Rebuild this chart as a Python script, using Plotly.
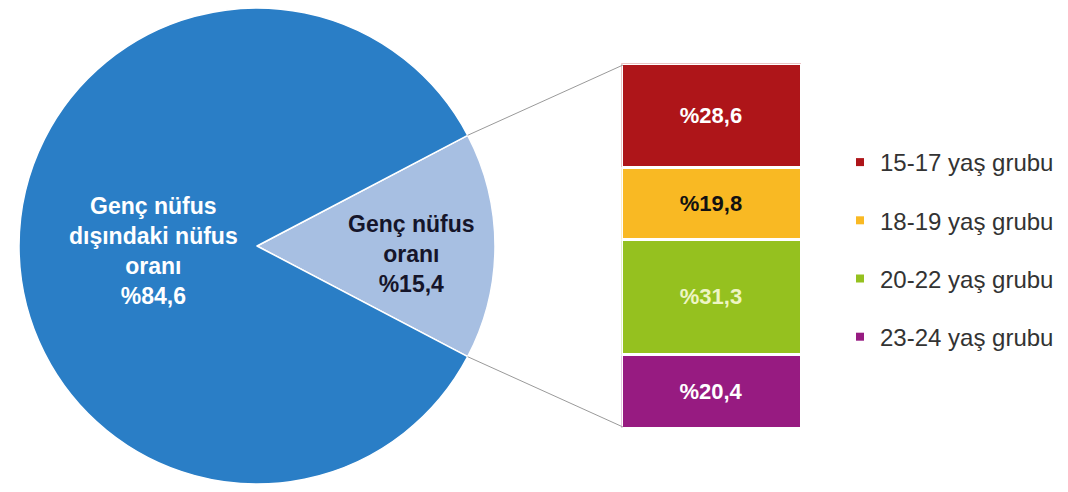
import math
import plotly.graph_objects as go

# the page body adds an 8px margin, so the figure is a bit smaller than the window
OFF = 8
W, H = 1068 - OFF, 492 - OFF

# --- data ---
pie_labels = ["Genç nüfus oranı", "Genç nüfus dışındaki nüfus oranı"]
pie_values = [15.4, 84.6]
pie_colors = ["#a7bfe2", "#2a7ec6"]

age_groups = ["15-17 yaş grubu", "18-19 yaş grubu", "20-22 yaş grubu", "23-24 yaş grubu"]
age_values = [28.6, 19.8, 31.3, 20.4]
age_colors = ["#ae1519", "#f9b923", "#95c11f", "#971b81"]
age_text_colors = ["white", "#111111", "#eef5c4", "white"]


def pct(v):
    return "%" + f"{v:.1f}".replace(".", ",")


# screen pixels -> paper coords
def fx(x):
    return (x - OFF) / W


def fy(y):
    return 1 - (y - OFF) / H


# --- geometry (screen pixels) ---
PIE_C = (257, 246)
PIE_R = 238
BAR_X = (623, 800)
BAR_Y = (65, 427)
BW = 3  # white gap between bar segments

fig = go.Figure()

# small slice centered at 3 o'clock
half_angle = pie_values[0] / sum(pie_values) * 360 / 2
fig.add_trace(go.Pie(
    labels=pie_labels, values=pie_values, sort=False, direction="clockwise",
    rotation=90 - half_angle,
    marker=dict(colors=pie_colors, line=dict(color="white", width=1.5)),
    textinfo="none", hoverinfo="label+value", showlegend=False,
    domain=dict(x=[fx(PIE_C[0] - PIE_R), fx(PIE_C[0] + PIE_R)],
                y=[fy(PIE_C[1] + PIE_R), fy(PIE_C[1] - PIE_R)]),
))

# stacked bar, bottom segment first
for name, v, c, tc in reversed(list(zip(age_groups, age_values, age_colors, age_text_colors))):
    fig.add_trace(go.Bar(
        x=[""], y=[v], name=name, marker=dict(color=c, line=dict(color="white", width=BW)),
        text=["<b>" + pct(v) + "</b>"], textposition="inside", insidetextanchor="middle",
        textfont=dict(color=tc, size=22, family="Liberation Sans, Arial"),
        showlegend=False, hoverinfo="name+y",
    ))

# legend entries (small squares)
for name, c in zip(age_groups, age_colors):
    fig.add_trace(go.Scatter(
        x=[None], y=[None], mode="markers", name=name, legendgroup=name,
        marker=dict(symbol="square", size=8, color=c),
    ))

# connector lines from slice edges to bar corners
th = math.radians(half_angle)
ex = PIE_C[0] + PIE_R * math.cos(th)
for sgn, by in ((-1, BAR_Y[0]), (1, BAR_Y[1])):
    ey = PIE_C[1] + sgn * PIE_R * math.sin(th)
    fig.add_shape(type="line", xref="paper", yref="paper",
                  x0=fx(ex), y0=fy(ey), x1=fx(BAR_X[0]), y1=fy(by),
                  line=dict(color="#9a9a9a", width=1))

# pie labels
fig.add_annotation(
    x=fx(153), y=fy(251), xref="paper", yref="paper", showarrow=False,
    xanchor="center", yanchor="middle",
    text="<b>Genç nüfus<br>dışındaki nüfus<br>oranı<br>" + pct(pie_values[1]) + "</b>",
    font=dict(color="white", size=23, family="Liberation Sans, Arial"),
)
fig.add_annotation(
    x=fx(411), y=fy(254), xref="paper", yref="paper", showarrow=False,
    xanchor="center", yanchor="middle",
    text="<b>Genç nüfus<br>oranı<br>" + pct(pie_values[0]) + "</b>",
    font=dict(color="#15152a", size=23, family="Liberation Sans, Arial"),
)

fig.update_layout(
    width=W, height=H, margin=dict(l=0, r=0, t=0, b=0),
    paper_bgcolor="white", plot_bgcolor="white",
    barmode="stack", bargap=0,
    xaxis=dict(domain=[fx(BAR_X[0] - BW / 2), fx(BAR_X[1] + BW / 2)], visible=False, fixedrange=True),
    yaxis=dict(domain=[fy(BAR_Y[1] + BW / 2), fy(BAR_Y[0] - BW / 2)], range=[0, sum(age_values)],
               visible=False, fixedrange=True),
    legend=dict(x=fx(840), y=fy(140), xanchor="left", yanchor="top",
                traceorder="grouped", tracegroupgap=24,
                font=dict(size=24, color="#333333", family="Liberation Sans, Arial"),
                bgcolor="rgba(0,0,0,0)"),
    font=dict(family="Liberation Sans, Arial"),
)

fig.write_html("out.html")
